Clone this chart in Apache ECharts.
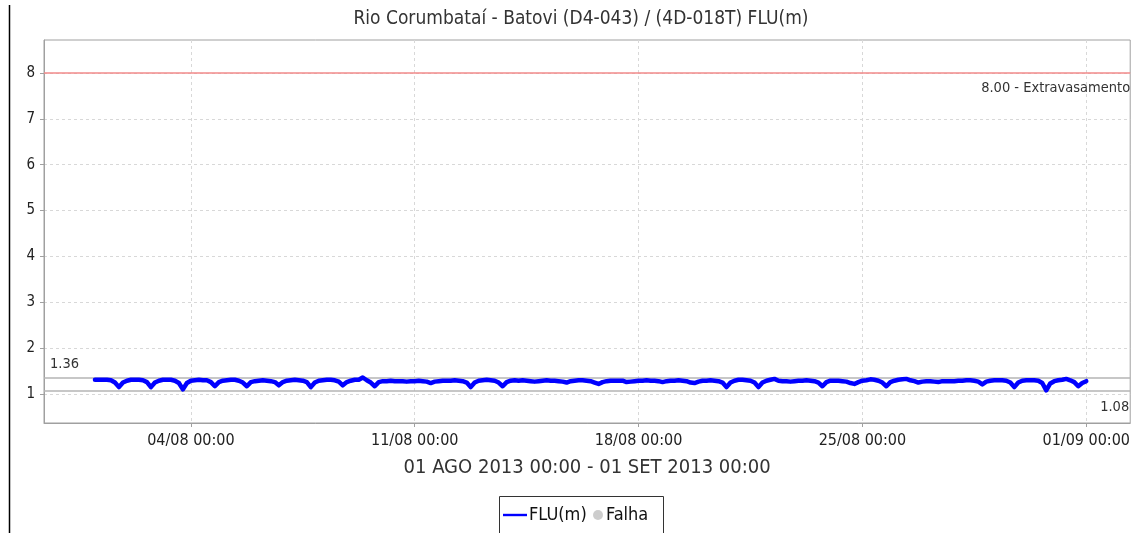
<!DOCTYPE html>
<html>
<head>
<meta charset="utf-8">
<script src="https://cdn.jsdelivr.net/npm/echarts@6/dist/echarts.min.js"></script>
<style>
  html, body { margin: 0; padding: 0; background: #fff; }
  #chart { width: 1133px; height: 533px; }
</style>
</head>
<body>
<div id="chart"></div>
<script>
// Station and period
const titleText = 'Rio Corumbataí - Batovi (D4-043) / (4D-018T) FLU(m)';
const periodText = '01 AGO 2013 00:00 - 01 SET 2013 00:00';
const seriesName = 'FLU(m)';
const failName = 'Falha';

// Water level (m), one reading every 3 h starting 01/08/2013 00:00
// (each row is one day: 00h 03h 06h 09h 12h 15h 18h 21h)
const stepDays = 0.125;
const flu = [
  1.31, 1.31, 1.31, 1.31, 1.30, 1.25, 1.15, 1.25, // 01/08
  1.29, 1.31, 1.31, 1.31, 1.30, 1.26, 1.15, 1.25, // 02/08
  1.29, 1.31, 1.31, 1.31, 1.29, 1.24, 1.10, 1.24, // 03/08
  1.29, 1.30, 1.31, 1.30, 1.30, 1.26, 1.17, 1.26, // 04/08
  1.29, 1.30, 1.31, 1.31, 1.29, 1.25, 1.17, 1.26, // 05/08
  1.28, 1.29, 1.30, 1.29, 1.28, 1.26, 1.19, 1.26, // 06/08
  1.29, 1.30, 1.31, 1.30, 1.29, 1.26, 1.15, 1.25, // 07/08
  1.29, 1.30, 1.31, 1.31, 1.30, 1.27, 1.19, 1.26, // 08/08
  1.29, 1.31, 1.31, 1.36, 1.30, 1.25, 1.17, 1.26, // 09/08
  1.28, 1.28, 1.29, 1.28, 1.28, 1.28, 1.27, 1.28, // 10/08
  1.28, 1.29, 1.28, 1.27, 1.24, 1.27, 1.28, 1.29, // 11/08
  1.29, 1.29, 1.30, 1.29, 1.28, 1.25, 1.15, 1.25, // 12/08
  1.29, 1.30, 1.31, 1.30, 1.29, 1.25, 1.17, 1.26, // 13/08
  1.29, 1.30, 1.29, 1.30, 1.29, 1.28, 1.27, 1.28, // 14/08
  1.29, 1.30, 1.29, 1.29, 1.28, 1.27, 1.25, 1.28, // 15/08
  1.29, 1.30, 1.30, 1.29, 1.28, 1.25, 1.22, 1.26, // 16/08
  1.28, 1.29, 1.29, 1.29, 1.29, 1.26, 1.27, 1.28, // 17/08
  1.29, 1.29, 1.30, 1.29, 1.29, 1.28, 1.26, 1.28, // 18/08
  1.29, 1.29, 1.30, 1.29, 1.28, 1.25, 1.24, 1.27, // 19/08
  1.29, 1.29, 1.30, 1.29, 1.28, 1.25, 1.15, 1.25, // 20/08
  1.29, 1.31, 1.31, 1.30, 1.29, 1.25, 1.15, 1.25, // 21/08
  1.29, 1.31, 1.33, 1.29, 1.28, 1.28, 1.27, 1.28, // 22/08
  1.29, 1.29, 1.30, 1.29, 1.28, 1.25, 1.17, 1.26, // 23/08
  1.29, 1.29, 1.29, 1.28, 1.27, 1.24, 1.22, 1.26, // 24/08
  1.29, 1.30, 1.32, 1.31, 1.29, 1.25, 1.17, 1.26, // 25/08
  1.29, 1.31, 1.32, 1.33, 1.30, 1.28, 1.25, 1.27, // 26/08
  1.28, 1.28, 1.27, 1.26, 1.28, 1.28, 1.28, 1.28, // 27/08
  1.29, 1.29, 1.30, 1.30, 1.29, 1.27, 1.21, 1.27, // 28/08
  1.29, 1.30, 1.30, 1.30, 1.29, 1.25, 1.15, 1.25, // 29/08
  1.29, 1.30, 1.30, 1.30, 1.29, 1.24, 1.08, 1.23, // 30/08
  1.28, 1.30, 1.31, 1.33, 1.30, 1.26, 1.17, 1.24, // 31/08
  1.28                                            // 01/09 00h
];

// Axis ticks (x in days since 01/08/2013 00:00)
const xTicks = [3, 10, 17, 24, 31];
const xTickLabels = ['04/08 00:00', '11/08 00:00', '18/08 00:00', '25/08 00:00', '01/09 00:00'];
const yTicks = [1, 2, 3, 4, 5, 6, 7, 8];

// Overflow reference level
const overflowLevel = 8;
const overflowLabel = 'Extravasamento';

// Visible axis ranges
const xRange = [-1.594, 32.375];
const yRange = [0.368, 8.72];

const FONT = "'DejaVu Sans Condensed', 'DejaVu Sans', sans-serif";

const points = flu.map((v, i) => [i * stepDays, v]);

const chart = echarts.init(document.getElementById('chart'), null, { renderer: 'canvas' });

const markLabel = { fontSize: 14.5, color: '#333', fontFamily: FONT };

const option = {
  animation: false,
  backgroundColor: '#fff',
  textStyle: { fontFamily: FONT },
  grid: {
    left: 44, right: 2, top: 40, bottom: 110,
    show: true, borderColor: '#a0a0a0', borderWidth: 1, backgroundColor: '#fff'
  },
  xAxis: {
    type: 'value',
    min: xRange[0], max: xRange[1],
    name: periodText,
    nameLocation: 'middle',
    nameGap: 35,
    nameTextStyle: { fontSize: 20, color: '#333', fontFamily: FONT },
    axisLine: { show: true, onZero: false, lineStyle: { color: '#a0a0a0', width: 1 } },
    axisTick: { show: true, customValues: xTicks, length: 4, lineStyle: { color: '#a0a0a0' } },
    axisLabel: {
      customValues: xTicks,
      margin: 10,
      fontSize: 16, color: '#222', fontFamily: FONT,
      formatter: v => {
        const k = xTicks.findIndex(t => Math.abs(t - v) < 1e-6);
        return k >= 0 ? xTickLabels[k] : '';
      }
    },
    splitLine: { show: true, lineStyle: { color: '#d8d8d8', type: [3, 3], width: 1 } }
  },
  yAxis: {
    type: 'value',
    min: yRange[0], max: yRange[1],
    axisLine: { show: true, onZero: false, lineStyle: { color: '#a0a0a0', width: 1 } },
    axisTick: { show: true, customValues: yTicks, length: 4, lineStyle: { color: '#a0a0a0' } },
    axisLabel: { customValues: yTicks, margin: 9, fontSize: 15, color: '#222', fontFamily: FONT },
    splitLine: { show: true, lineStyle: { color: '#d8d8d8', type: [3, 3], width: 1 } }
  },
  legend: [
    {
      data: [{ name: seriesName, icon: 'path://M0,0 L24,0 L24,2.4 L0,2.4 Z' }],
      left: 503, top: 506, padding: 0,
      itemWidth: 24, itemHeight: 10, itemGap: 0,
      textStyle: { fontSize: 18, color: '#111', fontFamily: FONT, padding: [0, 0, 0, -3] }
    },
    {
      data: [{ name: failName, icon: 'circle' }],
      left: 593, top: 506, padding: 0,
      itemWidth: 10, itemHeight: 10, itemGap: 0,
      textStyle: { fontSize: 18, color: '#111', fontFamily: FONT, padding: [0, 0, 0, -2] }
    }
  ],
  graphic: [
    {
      type: 'text',
      x: 581, y: 19,
      style: {
        text: titleText, fill: '#333', fontSize: 19, fontFamily: FONT,
        textAlign: 'center', textVerticalAlign: 'middle'
      }
    },
    {
      type: 'line',
      shape: { x1: 9.5, y1: 5, x2: 9.5, y2: 533 },
      style: { stroke: '#000', lineWidth: 1.5 }
    },
    {
      type: 'rect',
      shape: { x: 499.5, y: 496.5, width: 164, height: 40 },
      style: { fill: 'none', stroke: '#333', lineWidth: 1 }
    }
  ],
  series: [
    {
      name: seriesName,
      type: 'line',
      data: points,
      showSymbol: false,
      symbol: 'none',
      color: '#0000ff',
      lineStyle: { color: '#0000ff', width: 4.5, join: 'round', cap: 'round' },
      z: 5,
      markLine: {
        silent: true,
        symbol: 'none',
        animation: false,
        data: [
          {
            type: 'max', valueDim: 'y',
            lineStyle: { color: '#b4b4b4', width: 1.5, type: 'solid' },
            label: Object.assign({
              position: 'insideStartTop', distance: [6, 6],
              formatter: p => Number(p.value).toFixed(2)
            }, markLabel)
          },
          {
            type: 'min', valueDim: 'y',
            lineStyle: { color: '#b4b4b4', width: 1.5, type: 'solid' },
            label: Object.assign({
              position: 'insideEndBottom', distance: [1, 9],
              formatter: p => Number(p.value).toFixed(2)
            }, markLabel)
          },
          {
            yAxis: overflowLevel,
            lineStyle: { color: '#f28a8a', width: 1.5, type: 'solid' },
            label: Object.assign({
              position: 'insideEndBottom', distance: [0, 8],
              formatter: () => overflowLevel.toFixed(2) + ' - ' + overflowLabel
            }, markLabel)
          }
        ]
      }
    },
    {
      name: failName,
      type: 'scatter',
      data: [],
      color: '#c0c0c0',
      itemStyle: { color: '#c0c0c0' }
    }
  ]
};

chart.setOption(option);
</script>
</body>
</html>
